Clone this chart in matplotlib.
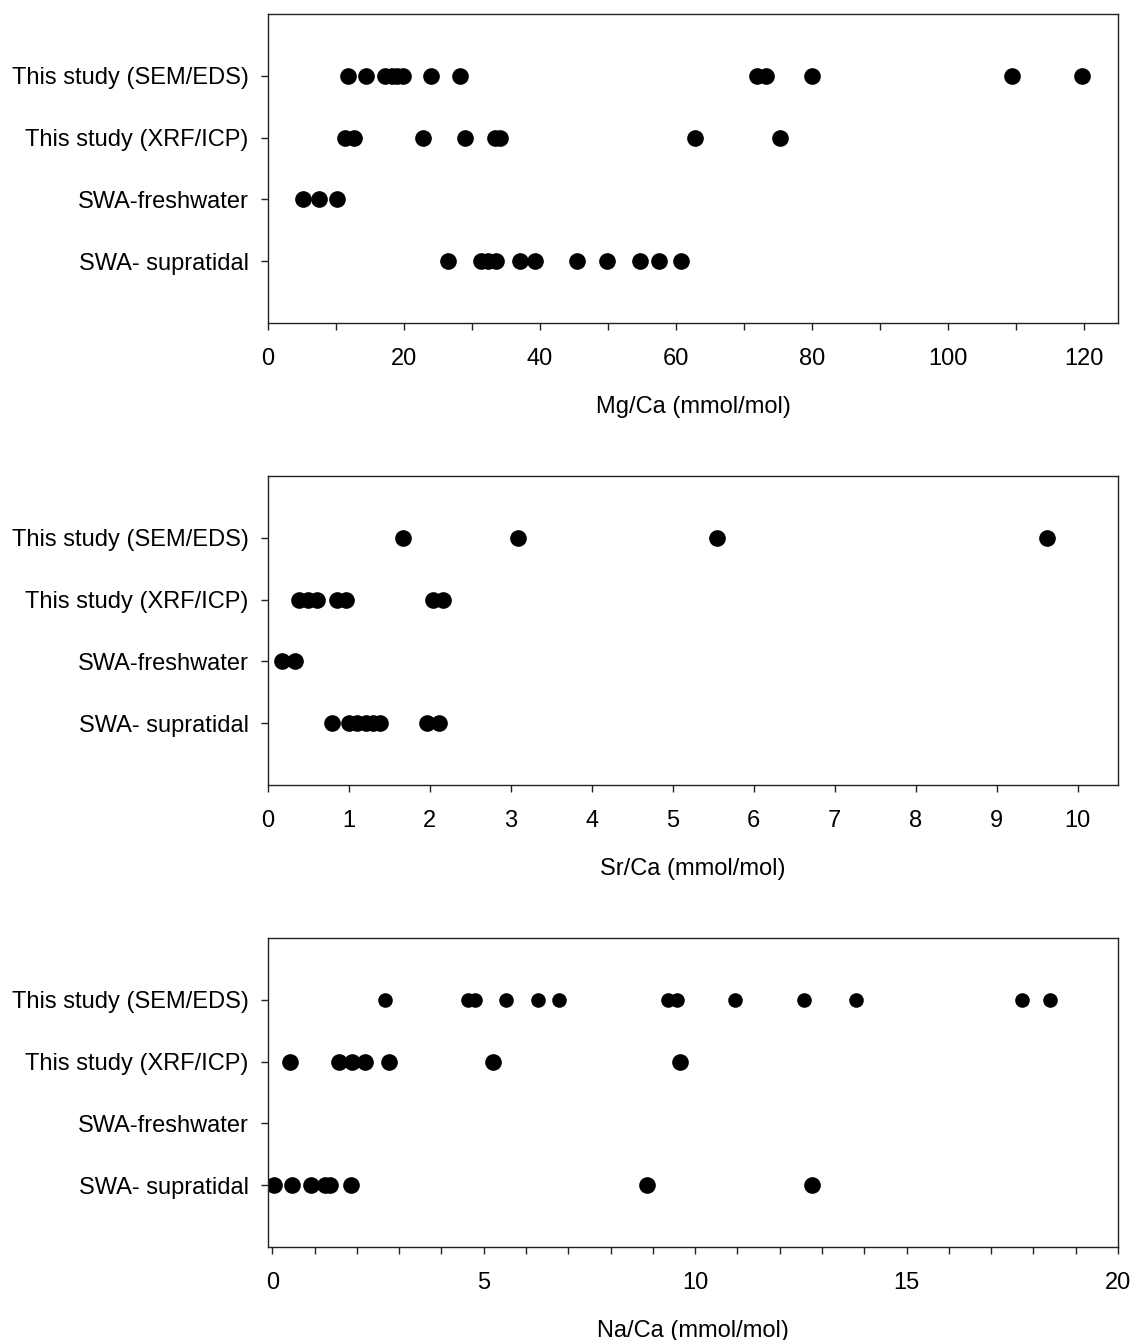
"""
    File: plot.py

    Description:
        Dot plots of Mg/Ca, Sr/Ca and Na/Ca ratios (mmol/mol)
        for this study and the SWA reference groups
"""
from matplotlib import pyplot as plt
from matplotlib.ticker import MultipleLocator

plt.rcParams['font.family'] = ['Liberation Sans', 'DejaVu Sans']

#category names, top row first
GROUPS = ['This study (SEM/EDS)', 'This study (XRF/ICP)',
          'SWA-freshwater', 'SWA- supratidal']

#Mg/Ca values per group
MG_SEM = [11.8, 14.4, 17.2, 18.2, 19.0, 19.8, 23.9, 28.2, 71.9, 73.3, 80.0, 109.4, 119.7]
MG_XRF = [11.3, 12.6, 22.8, 28.9, 33.4, 34.1, 62.8, 75.3]
MG_FRESH = [5.2, 7.5, 10.2]
MG_SUPRA = [26.5, 31.3, 32.4, 33.5, 37.1, 39.3, 45.4, 49.8, 54.7, 57.5, 60.7]

#Sr/Ca values per group
SR_SEM = [1.67, 3.09, 5.55, 9.62]
SR_XRF = [0.38, 0.50, 0.60, 0.85, 0.96, 2.04, 2.16]
SR_FRESH = [0.17, 0.33]
SR_SUPRA = [0.79, 1.00, 1.10, 1.21, 1.30, 1.38, 1.97, 2.11]

#Na/Ca values per group (no freshwater data)
NA_SEM = [2.67, 4.64, 4.80, 5.52, 6.28, 6.78, 9.37, 9.57, 10.95, 12.58, 13.81, 17.72, 18.39]
NA_XRF = [0.43, 1.57, 1.88, 2.20, 2.77, 5.21, 9.65]
NA_FRESH = []
NA_SUPRA = [0.05, 0.46, 0.91, 1.25, 1.37, 1.86, 8.86, 12.77]


def dot_panel(ax, series, xlabel, xlim, major, minor, sizes):
    #one row per group, SEM on top
    rows = [4, 3, 2, 1]
    for vals, row, ms in zip(series, rows, sizes):
        ax.plot(vals, [row] * len(vals), 'o', color='black', markersize=ms,
                markeredgewidth=0, linestyle='none')
    ax.set_ylim(0, 5)
    ax.set_yticks(rows)
    ax.set_yticklabels(GROUPS)
    ax.set_xlim(*xlim)
    ax.xaxis.set_major_locator(MultipleLocator(major))
    if minor:
        ax.xaxis.set_minor_locator(MultipleLocator(minor))
    ax.set_xlabel(xlabel, fontsize=17, labelpad=19)
    ax.tick_params(axis='both', which='both', direction='out', width=1.0,
                   color='#222222')
    ax.tick_params(axis='both', which='major', length=5, labelsize=17)
    ax.tick_params(axis='x', which='major', pad=13)
    ax.tick_params(axis='y', which='major', pad=9)
    ax.tick_params(axis='x', which='minor', length=5)
    for s in ax.spines.values():
        s.set_linewidth(1.0)
        s.set_color('#222222')


def main():
    fig = plt.figure(figsize=(11.35, 13.4), dpi=100)
    left = 268 / 1135
    width = 850 / 1135
    height = 309 / 1340
    ax1 = fig.add_axes([left, 1 - 323 / 1340, width, height])
    ax2 = fig.add_axes([left, 1 - 785 / 1340, width, height])
    ax3 = fig.add_axes([left, 1 - 1247 / 1340, width, height])

    dot_panel(ax1, [MG_SEM, MG_XRF, MG_FRESH, MG_SUPRA], 'Mg/Ca (mmol/mol)',
              (0, 125), 20, 10, [12, 12, 12, 12])
    dot_panel(ax2, [SR_SEM, SR_XRF, SR_FRESH, SR_SUPRA], 'Sr/Ca (mmol/mol)',
              (0, 10.5), 1, None, [12, 12, 12, 12])
    dot_panel(ax3, [NA_SEM, NA_XRF, NA_FRESH, NA_SUPRA], 'Na/Ca (mmol/mol)',
              (-0.1, 20), 5, 1, [10.5, 12, 12, 12])

    plt.savefig('out.png', dpi=100)


if __name__ == "__main__":
    main()
